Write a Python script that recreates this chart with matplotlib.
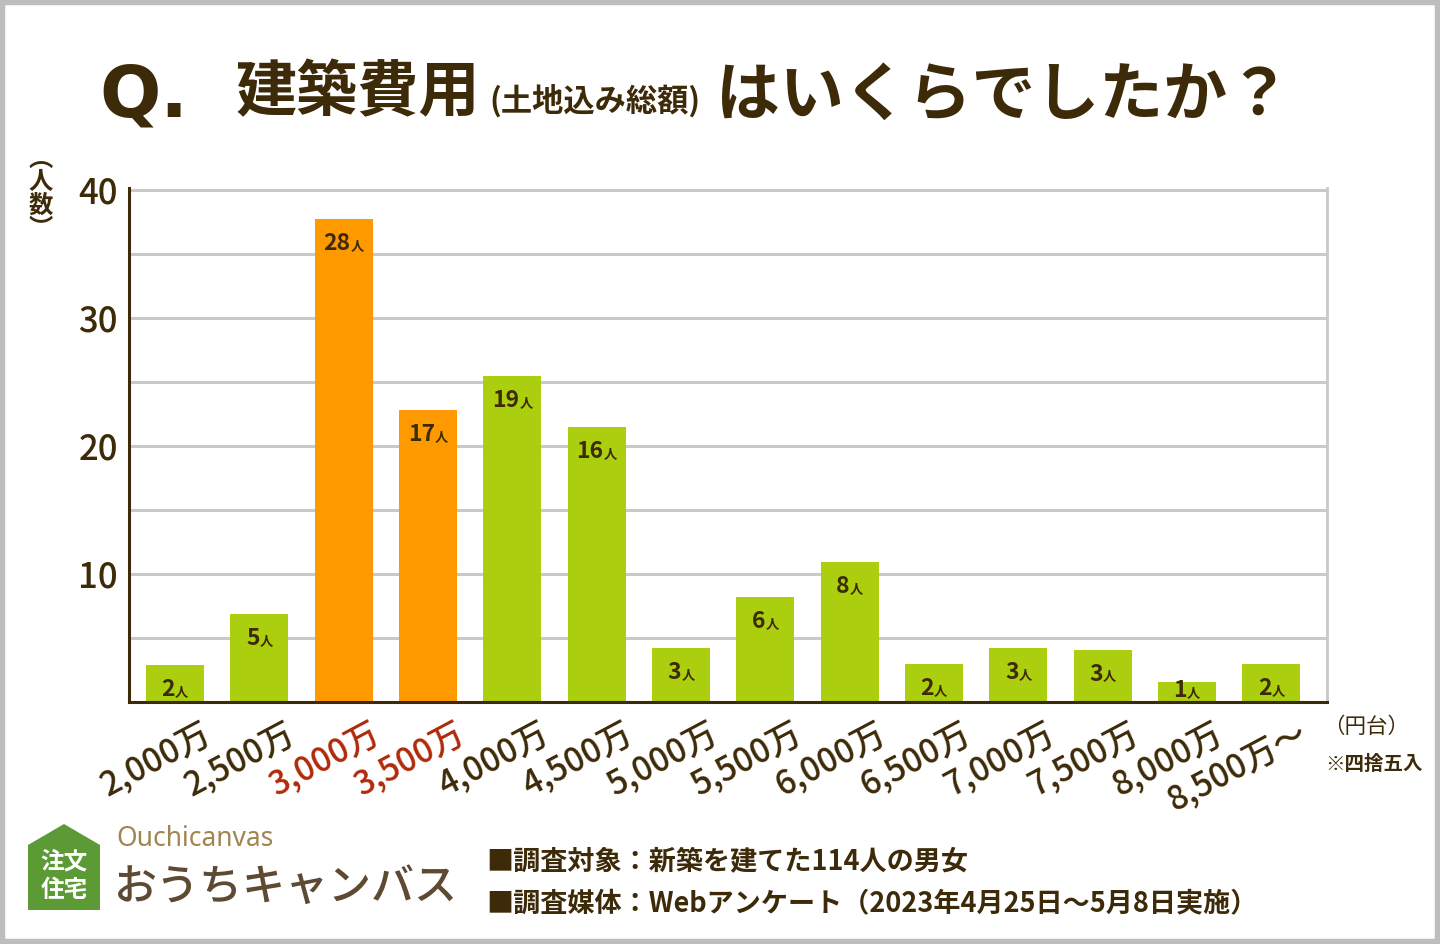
import matplotlib
matplotlib.use("Agg")
import matplotlib.pyplot as plt
from matplotlib.patches import Rectangle, Polygon
from matplotlib.transforms import ScaledTranslation

plt.rcParams["font.family"] = ["Noto Sans CJK JP", "DejaVu Sans"]

# --- data ---
PRICE_LABELS = ["2,000万", "2,500万", "3,000万", "3,500万", "4,000万", "4,500万",
                "5,000万", "5,500万", "6,000万", "6,500万", "7,000万", "7,500万",
                "8,000万", "8,500万〜"]
COUNTS = [2, 5, 28, 17, 19, 16, 3, 6, 8, 2, 3, 3, 1, 2]
# bar heights as drawn against the y axis (the picture does not draw them at the counts)
BAR_HEIGHTS = [2.9, 6.9, 37.7, 22.8, 25.5, 21.5, 4.2, 8.2, 10.9, 3.0, 4.2, 4.1, 1.6, 3.0]
HIGHLIGHT = {"3,000万", "3,500万"}
Y_TICKS = [10, 20, 30, 40]
Y_MINOR = [5, 15, 25, 35]

TITLE_Q = "Q."
TITLE_MAIN = "建築費用"
TITLE_SUB = "(土地込み総額)"
TITLE_END = "はいくらでしたか？"
NOTE_LINES = ["■調査対象：新築を建てた114人の男女",
              "■調査媒体：Webアンケート（2023年4月25日～5月8日実施）"]

BROWN = "#3d2a08"
RED = "#b02a0a"
GREEN = "#abce0e"
ORANGE = "#ff9900"
GRID = "#c9c9c9"

W, H = 1440, 944
fig = plt.figure(figsize=(W / 100, H / 100), dpi=100)
fig.patch.set_facecolor("white")


def px(x, y):
    return x / W, 1 - y / H


# axes placed to match the plot box of the reference
ax_left, ax_right, ax_bottom, ax_top = 129, 1327, 702, 188
ax = fig.add_axes([ax_left / W, 1 - ax_bottom / H,
                   (ax_right - ax_left) / W, (ax_bottom - ax_top) / H])

xs = list(range(len(COUNTS)))
colors = [ORANGE if lab in HIGHLIGHT else GREEN for lab in PRICE_LABELS]
ax.bar(xs, BAR_HEIGHTS, width=0.69, color=colors, zorder=3)

ax.set_xlim(-0.546, 13.66)
ax.set_ylim(0, 40.15)

ax.set_yticks(Y_TICKS)
ax.set_yticks(Y_MINOR, minor=True)
ax.grid(True, axis="y", which="both", color=GRID, lw=2.2, zorder=0)
ax.tick_params(axis="y", which="both", length=0, pad=8, labelsize=25, labelcolor=BROWN)
for lab in ax.get_yticklabels():
    lab.set_fontweight("medium")

ax.spines["top"].set_visible(False)
ax.spines["right"].set_color(GRID)
ax.spines["right"].set_linewidth(2)
for side in ["left", "bottom"]:
    ax.spines[side].set_color(BROWN)
    ax.spines[side].set_linewidth(2.2)
    ax.spines[side].set_zorder(4)

ax.set_xticks(xs)
ax.set_xticklabels(PRICE_LABELS, rotation=28, ha="right", va="top", fontsize=24,
                   fontweight="medium")
ax.tick_params(axis="x", length=0, pad=10)
shift = ScaledTranslation(42 / 100, 0, fig.dpi_scale_trans)
for lab in ax.get_xticklabels():
    lab.set_color(RED if lab.get_text() in HIGHLIGHT else BROWN)
    lab.set_transform(lab.get_transform() + shift)

# value labels inside the bars: bold number + small 人
fig.canvas.draw()
renderer = fig.canvas.get_renderer()
ppu = ax.transData.transform((0, 1))[1] - ax.transData.transform((0, 0))[1]
for i, (h, n) in enumerate(zip(BAR_HEIGHTS, COUNTS)):
    base = max(h - 31 / ppu, 5 / ppu)
    t1 = ax.text(i, base, str(n), fontsize=16.5, fontweight="bold", color=BROWN,
                 ha="left", va="baseline", zorder=5)
    t2 = ax.text(i, base, "人", fontsize=9.5, fontweight="bold", color=BROWN,
                 ha="left", va="baseline", zorder=5)
    w1 = t1.get_window_extent(renderer).width
    w2 = t2.get_window_extent(renderer).width
    total = w1 + w2
    t1.set_transform(ax.transData + ScaledTranslation(-total / 2 / 100, 0, fig.dpi_scale_trans))
    t2.set_transform(ax.transData + ScaledTranslation((w1 - total / 2) / 100, 0, fig.dpi_scale_trans))

# y axis caption, stacked vertically
fig.text(*px(41, 194), "︵\n人\n数\n︶", fontsize=17.5, fontweight="bold", color=BROWN,
         ha="center", va="center", linespacing=0.98)

# title
fig.text(*px(99, 97), TITLE_Q, fontsize=52, fontweight="black", color=BROWN,
         family=["DejaVu Sans"], ha="left", va="center")
fig.text(*px(236, 94), TITLE_MAIN, fontsize=44, fontweight="bold", color=BROWN,
         ha="left", va="center")
fig.text(*px(489, 101), TITLE_SUB, fontsize=22.5, fontweight="bold", color=BROWN,
         ha="left", va="center")
fig.text(*px(716, 96), TITLE_END, fontsize=46, fontweight="bold", color=BROWN,
         ha="left", va="center")

# unit notes on the right
fig.text(*px(1323, 727), "（円台）", fontsize=15.5, color=BROWN, ha="left", va="center")
fig.text(*px(1325, 764), "※四捨五入", fontsize=14, fontweight="bold", color=BROWN,
         ha="left", va="center")

# survey notes
fig.text(*px(486, 861), NOTE_LINES[0], fontsize=19.5, fontweight="bold", color=BROWN,
         ha="left", va="center")
fig.text(*px(486, 903), NOTE_LINES[1], fontsize=19.5, fontweight="bold", color=BROWN,
         ha="left", va="center")

# logo
house = Polygon([px(28, 910), px(100, 910), px(100, 845), px(64, 824), px(28, 845)],
                closed=True, transform=fig.transFigure, facecolor="#5b9a34", edgecolor="none")
fig.patches.append(house)
fig.text(*px(64, 861), "注文", fontsize=17, fontweight="bold", color="white",
         ha="center", va="center")
fig.text(*px(64, 890), "住宅", fontsize=17, fontweight="bold", color="white",
         ha="center", va="center")
fig.text(*px(116, 839), "Ouchicanvas", fontsize=19, color="#a0854f",
         family=["Noto Sans"], ha="left", va="center")
fig.text(*px(114, 887), "おうちキャンバス", fontsize=31, fontweight="medium", color="#5e4a33",
         ha="left", va="center")

# outer frame
fig.patches.append(Rectangle((0, 0), 1, 1, transform=fig.transFigure, fill=False,
                             edgecolor="#bdbdbd", lw=7.5))

fig.savefig("out.png", dpi=100, facecolor="white")
